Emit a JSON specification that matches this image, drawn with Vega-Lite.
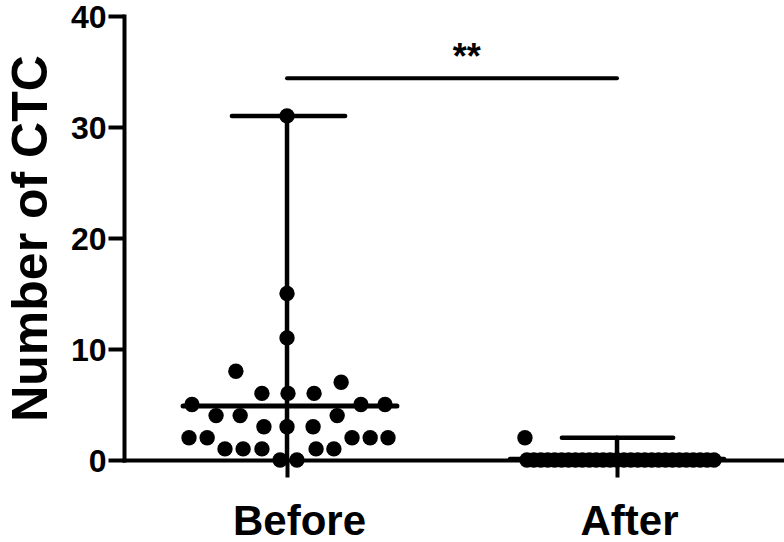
{
  "$schema": "https://vega.github.io/schema/vega-lite/v6.json",
  "width": 660,
  "height": 444,
  "autosize": "none",
  "padding": {"left": 124, "top": 16, "right": 0, "bottom": 82},
  "background": "white",
  "config": {
    "view": {"stroke": null},
    "font": "Liberation Sans"
  },
  "datasets": {
    "dots": [
      {"group": "Before", "x": 0.845, "y": 8},
      {"group": "Before", "x": 0.924, "y": 6},
      {"group": "Before", "x": 1.003, "y": 6},
      {"group": "Before", "x": 1.082, "y": 6},
      {"group": "Before", "x": 1.164, "y": 7},
      {"group": "Before", "x": 0.712, "y": 5},
      {"group": "Before", "x": 1.224, "y": 5},
      {"group": "Before", "x": 1.297, "y": 5},
      {"group": "Before", "x": 0.785, "y": 4},
      {"group": "Before", "x": 0.858, "y": 4},
      {"group": "Before", "x": 1.152, "y": 4},
      {"group": "Before", "x": 0.930, "y": 3},
      {"group": "Before", "x": 1.0, "y": 3},
      {"group": "Before", "x": 1.079, "y": 3},
      {"group": "Before", "x": 0.703, "y": 2},
      {"group": "Before", "x": 0.758, "y": 2},
      {"group": "Before", "x": 1.197, "y": 2},
      {"group": "Before", "x": 1.252, "y": 2},
      {"group": "Before", "x": 1.306, "y": 2},
      {"group": "Before", "x": 0.812, "y": 1},
      {"group": "Before", "x": 0.867, "y": 1},
      {"group": "Before", "x": 0.924, "y": 1},
      {"group": "Before", "x": 1.088, "y": 1},
      {"group": "Before", "x": 1.142, "y": 1},
      {"group": "Before", "x": 0.979, "y": 0},
      {"group": "Before", "x": 1.030, "y": 0},
      {"group": "Before", "x": 1.0, "y": 11},
      {"group": "Before", "x": 1.0, "y": 15},
      {"group": "Before", "x": 1.0, "y": 31},
      {"group": "After", "x": 1.721, "y": 2},
      {"group": "After", "x": 1.727, "y": 0},
      {"group": "After", "x": 1.748, "y": 0},
      {"group": "After", "x": 1.769, "y": 0},
      {"group": "After", "x": 1.790, "y": 0},
      {"group": "After", "x": 1.811, "y": 0},
      {"group": "After", "x": 1.832, "y": 0},
      {"group": "After", "x": 1.853, "y": 0},
      {"group": "After", "x": 1.874, "y": 0},
      {"group": "After", "x": 1.895, "y": 0},
      {"group": "After", "x": 1.916, "y": 0},
      {"group": "After", "x": 1.937, "y": 0},
      {"group": "After", "x": 1.958, "y": 0},
      {"group": "After", "x": 1.979, "y": 0},
      {"group": "After", "x": 2.000, "y": 0},
      {"group": "After", "x": 2.021, "y": 0},
      {"group": "After", "x": 2.042, "y": 0},
      {"group": "After", "x": 2.063, "y": 0},
      {"group": "After", "x": 2.084, "y": 0},
      {"group": "After", "x": 2.105, "y": 0},
      {"group": "After", "x": 2.126, "y": 0},
      {"group": "After", "x": 2.147, "y": 0},
      {"group": "After", "x": 2.168, "y": 0},
      {"group": "After", "x": 2.189, "y": 0},
      {"group": "After", "x": 2.210, "y": 0},
      {"group": "After", "x": 2.231, "y": 0},
      {"group": "After", "x": 2.252, "y": 0},
      {"group": "After", "x": 2.273, "y": 0},
      {"group": "After", "x": 2.294, "y": 0}
    ],
    "segs": [
      {"kind": "mean", "x": 0.685, "x2": 1.333, "y": 4.86, "y2": 4.86},
      {"kind": "mean", "x": 1.676, "x2": 2.324, "y": 0.07, "y2": 0.07},
      {"kind": "range", "x": 1.0, "x2": 1.0, "y": 0, "y2": 31},
      {"kind": "range", "x": 0.833, "x2": 1.176, "y": 31, "y2": 31},
      {"kind": "range", "x": 2.0, "x2": 2.0, "y": 0, "y2": 2},
      {"kind": "range", "x": 1.833, "x2": 2.170, "y": 2, "y2": 2},
      {"kind": "sig", "x": 1.0, "x2": 2.0, "y": 34.4, "y2": 34.4}
    ],
    "labels": [
      {"x": 1.545, "y": 35.2, "text": "**"}
    ]
  },
  "layer": [
    {
      "data": {"name": "segs"},
      "mark": {"type": "rule", "color": "black", "strokeCap": "round", "clip": false},
      "encoding": {
        "x": {"field": "x", "type": "quantitative", "scale": {"domain": [0.506, 2.506], "nice": false, "zero": false},
          "axis": {"values": [1, 2], "labelExpr": "datum.value == 1 ? 'Before' : 'After'", "title": null, "grid": false,
            "domainColor": "black", "domainWidth": 4, "domainCap": "square", "tickColor": "black", "tickWidth": 4, "tickSize": 17,
            "labelFont": "Liberation Sans", "labelFontWeight": "bold", "labelFontSize": 42, "labelColor": "black", "labelPadding": 24, "labelOffset": 12, "labelFlush": false}},
        "x2": {"field": "x2"},
        "y": {"field": "y", "type": "quantitative", "scale": {"domain": [0, 40], "nice": false},
          "axis": {"values": [0, 10, 20, 30, 40], "title": "Number of CTC", "grid": false,
            "domainColor": "black", "domainWidth": 4, "domainCap": "square", "tickColor": "black", "tickWidth": 4, "tickSize": 16,
            "labelFont": "Liberation Sans", "labelFontWeight": "bold", "labelFontSize": 32, "labelColor": "black", "labelPadding": 2, "labelOffset": 1, "labelFlush": false,
            "titleFont": "Liberation Sans", "titleFontWeight": "bold", "titleFontSize": 50, "titleColor": "black", "titlePadding": 14}},
        "y2": {"field": "y2"},
        "strokeWidth": {"field": "kind", "type": "nominal", "scale": {"domain": ["mean", "range", "sig"], "range": [5, 4, 4.5]}, "legend": null}
      }
    },
    {
      "data": {"name": "dots"},
      "mark": {"type": "point", "filled": true, "shape": "circle", "color": "black", "size": 236, "opacity": 1, "strokeWidth": 0, "clip": false},
      "encoding": {
        "x": {"field": "x", "type": "quantitative"},
        "y": {"field": "y", "type": "quantitative"}
      }
    },
    {
      "data": {"name": "labels"},
      "mark": {"type": "text", "font": "Liberation Sans", "fontWeight": "bold", "fontSize": 36, "color": "black", "align": "center", "baseline": "alphabetic"},
      "encoding": {
        "x": {"field": "x", "type": "quantitative"},
        "y": {"field": "y", "type": "quantitative"},
        "text": {"field": "text"}
      }
    }
  ]
}
